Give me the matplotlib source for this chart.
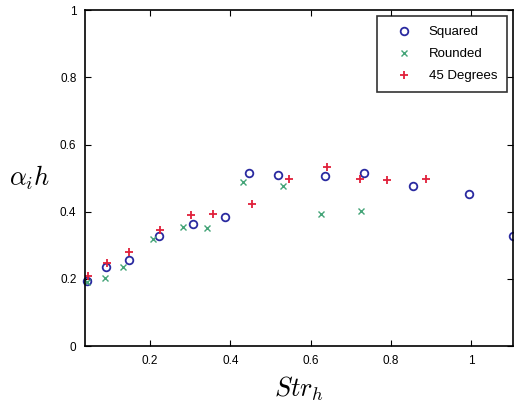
import matplotlib
matplotlib.use("Agg")
import matplotlib.pyplot as plt

plt.rcParams["font.family"] = ["Liberation Sans", "DejaVu Sans"]
plt.rcParams["mathtext.fontset"] = "cm"

# Squared
sq_x = [0.042, 0.090, 0.146, 0.223, 0.307, 0.386, 0.446, 0.519, 0.635, 0.733, 0.855, 0.995, 1.105]
sq_y = [0.193, 0.236, 0.255, 0.328, 0.363, 0.385, 0.516, 0.510, 0.506, 0.516, 0.477, 0.452, 0.329]

# Rounded
rd_x = [0.042, 0.088, 0.133, 0.207, 0.282, 0.342, 0.431, 0.531, 0.626, 0.725]
rd_y = [0.190, 0.203, 0.235, 0.318, 0.356, 0.353, 0.487, 0.478, 0.392, 0.401]

# 45 Degrees
dg_x = [0.044, 0.093, 0.148, 0.224, 0.303, 0.358, 0.453, 0.547, 0.642, 0.723, 0.792, 0.888]
dg_y = [0.210, 0.246, 0.280, 0.347, 0.390, 0.393, 0.423, 0.497, 0.534, 0.497, 0.494, 0.497]

fig = plt.figure(figsize=(5.14, 4.03), dpi=100)
ax = fig.add_axes([0.165, 0.141, 0.833, 0.834])

ax.plot(sq_x, sq_y, "o", mfc="none", mec="#2a2aa0", mew=1.3, ms=5.5, label="Squared", clip_on=False)
ax.plot(rd_x, rd_y, "x", color="#44a478", mew=1.0, ms=4.5, label="Rounded")
ax.plot(dg_x, dg_y, "+", color="#e0203a", mew=1.3, ms=6, label="45 Degrees")

ax.set_xlim(0.037, 1.105)
ax.set_ylim(0, 1)
ax.set_xticks([0.2, 0.4, 0.6, 0.8, 1.0])
ax.set_xticklabels(["0.2", "0.4", "0.6", "0.8", "1"])
ax.set_yticks([0, 0.2, 0.4, 0.6, 0.8, 1.0])
ax.set_yticklabels(["0", "0.2", "0.4", "0.6", "0.8", "1"])
ax.tick_params(direction="in", top=True, right=True, labelsize=8.5, length=4, pad=6)
for s in ax.spines.values():
    s.set_linewidth(1.2)

ax.set_xlabel(r"$Str_h$", fontsize=19, labelpad=6)
ax.set_ylabel(r"$\alpha_i h$", fontsize=19, rotation=0, labelpad=22, va="center")

leg = ax.legend(loc="upper right", fontsize=9.5, frameon=True, fancybox=False,
                edgecolor="black", borderaxespad=0.45, handlelength=2.6,
                handletextpad=0.55, labelspacing=0.75, borderpad=0.75)
leg.get_frame().set_linewidth(1.2)

fig.savefig("out.png", dpi=100)
